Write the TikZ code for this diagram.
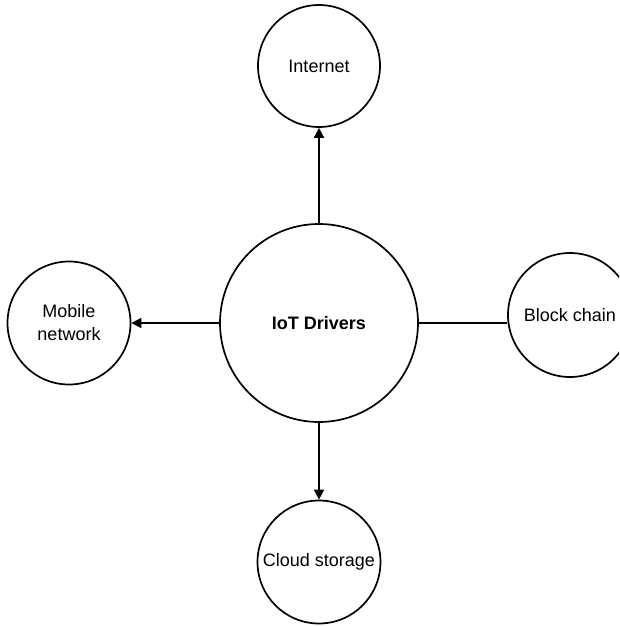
\documentclass[tikz,border=0pt]{standalone}
\usepackage{fontspec}
\setmainfont{Liberation Sans}
\usetikzlibrary{arrows.meta}
\begin{document}
\begin{tikzpicture}[x=1pt,y=-1pt,
  bubble/.style={circle,draw=black,line width=1.7pt,fill=white,inner sep=0pt,
    align=center,font=\fontsize{18}{23}\selectfont},
  link/.style={draw=black,line width=1.5pt},
  arrowlink/.style={link,-{Triangle[length=10pt,width=10pt]}}]
  \useasboundingbox (0,0) rectangle (619,626);
  \clip (0,0) rectangle (619,626);
  \fill[white] (0,0) rectangle (619,626);

  % hub and its four neighbours
  \node[bubble,minimum size=198pt,font=\bfseries\fontsize{18}{23}\selectfont] (hub) at (319,323) {IoT Drivers};
  \node[bubble,minimum size=122pt] (net)   at (319,66)  {Internet};
  \node[bubble,minimum size=123pt] (mob)   at (69,323)  {Mobile\\network};
  \node[bubble,minimum size=124pt] (chain) at (570,315) {Block chain};
  \node[bubble,minimum size=123pt] (cloud) at (319,562) {Cloud storage};

  % connectors
  \draw[arrowlink] (hub.north) -- (net.south);
  \draw[arrowlink] (hub.west) -- (mob.east);
  \draw[arrowlink] (hub.south) -- (cloud.north);
  \draw[link] (hub.east) -- (chain.west |- hub.east);
\end{tikzpicture}
\end{document}
